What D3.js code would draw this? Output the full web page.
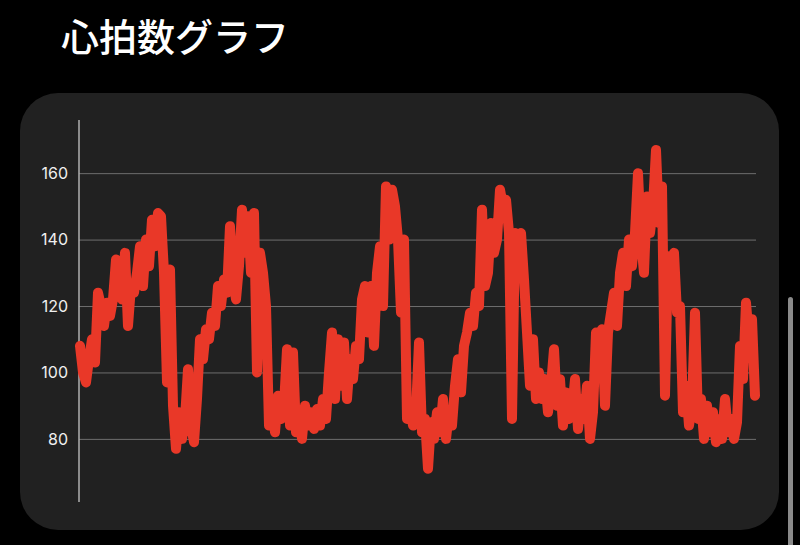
<!DOCTYPE html>
<html>
<head>
<meta charset="utf-8">
<script src="https://cdn.jsdelivr.net/npm/d3@7"></script>
<style>
  html, body { margin: 0; padding: 0; background: #000; }
  svg { display: block; }
</style>
</head>
<body>
<svg id="chart" width="800" height="545"></svg>
<script>
const title = "心拍数グラフ";
const yTicks = [80, 100, 120, 140, 160];
const yDomain = [61, 176];
// heart rate readings (bpm), in time order
const heartRate = [
  108,100,97,104,110,103,124,120,114,121,
  117,122,134,128,122,136,114,126,124,130,
  138,126,140,132,146,138,148,147,130,97,
  131,90,77,
  88,80,86,101,84,79,92,110,104,113,
  110,118,114,126,120,128,124,144,128,122,
  132,149,136,147,130,148,100,136,130,120,
  84,90,82,93,86,90,107,84,106,82,
  88,
  80,90,84,88,83,89,84,92,86,100,
  112,92,110,96,109,92,104,98,108,104,
  122,126,112,126,108,130,138,120,156,140,
  155,150,140,118,140,86,
  90,84,88,109,82,86,71,85,80,88,
  82,92,80,88,84,96,104,94,108,112,
  118,114,124,120,149,126,130,145,136,140,
  155,150,152,142,86,142,
  140,142,128,112,96,110,92,100,92,98,
  88,96,107,90,98,84,94,86,88,98,
  83,92,86,96,80,88,112,100,113,90,
  112,118,124,114,130,
  136,126,140,132,142,160,140,130,153,142,
  150,167,145,156,93,135,128,136,118,120,
  88,96,84,90,118,86,92,80,90,82,
  88,79,86,80,92,82,86,80,85,108,
  98,121,110,116,93
];

const svg = d3.select("#chart");

// background
svg.append("rect").attr("width", 800).attr("height", 545).attr("fill", "#000");

// title
svg.append("text")
  .attr("x", 61).attr("y", 51)
  .attr("fill", "#fff")
  .attr("font-family", "'Noto Sans CJK JP', 'Noto Sans', sans-serif")
  .attr("font-weight", 500)
  .attr("font-size", 38)
  .text(title);

// card
svg.append("rect")
  .attr("x", 20).attr("y", 93)
  .attr("width", 759).attr("height", 437)
  .attr("rx", 38).attr("ry", 38)
  .attr("fill", "#212121");

const plot = { left: 79, right: 756, top: 120, bottom: 502 };

const x = d3.scaleLinear()
  .domain([0, heartRate.length - 1])
  .range([80, 755]);

const y = d3.scaleLinear()
  .domain(yDomain)
  .range([plot.bottom, plot.top]);

// grid lines + labels via axis
const yAxis = d3.axisLeft(y)
  .tickValues(yTicks)
  .tickSize(-(plot.right - plot.left))
  .tickPadding(11)
  .tickFormat(d3.format("d"));

const gAxis = svg.append("g")
  .attr("transform", `translate(${plot.left},0)`)
  .call(yAxis);
gAxis.select(".domain").remove();
gAxis.selectAll(".tick line")
  .attr("stroke", "#6e6e6e")
  .attr("stroke-width", 1);
gAxis.selectAll(".tick text")
  .attr("fill", "#efefef")
  .attr("font-family", "Inter, 'Noto Sans', sans-serif")
  .attr("font-size", 16);

// vertical axis line
svg.append("line")
  .attr("x1", plot.left).attr("x2", plot.left)
  .attr("y1", plot.top).attr("y2", plot.bottom)
  .attr("stroke", "#b0b0b0")
  .attr("stroke-width", 1.5);

// heart-rate line
const line = d3.line()
  .x((d, i) => x(i))
  .y(d => y(d));

svg.append("path")
  .datum(heartRate)
  .attr("d", line)
  .attr("fill", "none")
  .attr("stroke", "#e93828")
  .attr("stroke-width", 10)
  .attr("stroke-linejoin", "round")
  .attr("stroke-linecap", "round");

// scroll indicator
svg.append("rect")
  .attr("x", 788).attr("y", 297)
  .attr("width", 5).attr("height", 260)
  .attr("rx", 2.5)
  .attr("fill", "#8a8a8a");
</script>
</body>
</html>
